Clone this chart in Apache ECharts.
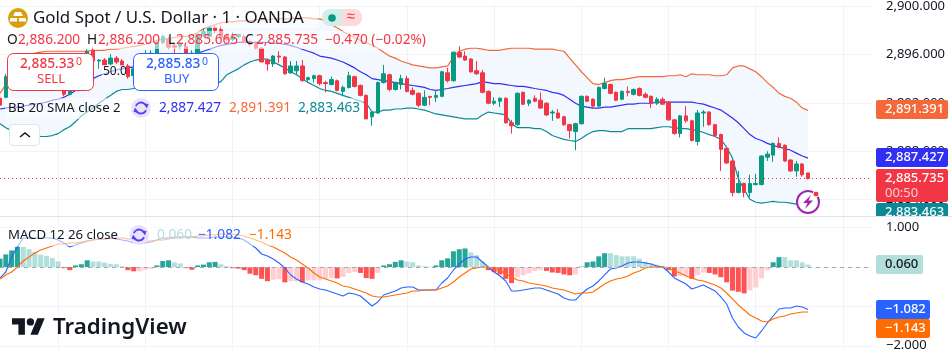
<!DOCTYPE html>
<html>
<head>
<meta charset="utf-8">
<style>
  html, body { margin: 0; padding: 0; background: #fff; }
  #chart { width: 952px; height: 358px; }
</style>
<script src="https://cdn.jsdelivr.net/npm/echarts@6/dist/echarts.min.js"></script>
</head>
<body>
<div id="chart"></div>
<script>
// XAU/USD 1 minute candles
const opens = [
  2892.39,2892.47,2894.18,2894.99,2895.56,2895.16,2894.50,2894.99,2894.42,2893.94,
  2893.37,2893.85,2892.72,2893.69,2894.75,2895.72,2896.37,2895.48,2895.56,2895.24,
  2895.72,2895.48,2895.07,2894.26,2894.83,2894.83,2895.81,2895.89,2897.02,2897.27,
  2896.78,2896.70,2896.70,2895.97,2895.97,2897.59,2897.51,2898.24,2898.08,2897.59,
  2897.27,2897.51,2897.51,2897.11,2896.94,2896.54,2895.56,2895.24,2895.89,2895.81,
  2894.50,2894.67,2895.07,2893.94,2894.02,2894.26,2893.69,2893.53,2893.85,2892.96,
  2893.29,2894.18,2893.45,2892.63,2890.85,2891.17,2893.69,2894.34,2893.12,2893.53,
  2894.02,2893.04,2892.80,2891.82,2892.55,2892.47,2892.55,2894.50,2893.85,2896.21,
  2895.89,2895.64,2894.67,2894.50,2892.96,2891.98,2892.15,2892.39,2890.36,2890.20,
  2892.88,2891.98,2892.39,2892.23,2891.98,2891.17,2891.17,2890.85,2890.20,2889.63,
  2890.28,2892.55,2892.31,2891.74,2893.20,2893.53,2892.88,2892.31,2892.96,2892.72,
  2893.20,2892.72,2892.55,2891.98,2892.31,2892.07,2890.60,2889.46,2890.93,2890.52,
  2888.81,2891.17,2891.25,2890.20,2889.38,2888.24,2887.19,2884.58,2885.32,2884.58,
  2885.24,2885.24,2887.51,2887.68,2888.65,2888.49,2887.27,2886.37,2886.94,2886.20
];
const closes = [
  2891.82,2894.18,2895.07,2895.64,2895.07,2894.50,2894.99,2894.34,2893.85,2893.45,
  2893.77,2892.72,2893.69,2894.83,2895.72,2896.29,2895.48,2895.56,2895.16,2895.72,
  2895.40,2895.07,2894.18,2894.83,2894.34,2895.89,2896.13,2897.02,2897.51,2896.62,
  2896.62,2896.94,2895.97,2896.13,2897.67,2897.92,2898.24,2898.00,2897.43,2897.27,
  2897.51,2897.67,2897.02,2896.86,2896.54,2895.40,2895.24,2895.89,2895.81,2894.42,
  2895.07,2895.07,2893.85,2894.10,2894.26,2893.61,2893.61,2893.94,2893.04,2893.29,
  2894.26,2893.37,2892.63,2890.68,2891.25,2893.69,2894.42,2893.12,2893.69,2894.02,
  2892.96,2892.72,2891.82,2892.47,2892.47,2892.63,2894.59,2893.85,2896.21,2895.81,
  2895.56,2894.59,2894.42,2892.88,2891.98,2892.15,2892.39,2890.36,2890.11,2892.80,
  2891.90,2892.23,2892.15,2891.58,2891.01,2891.25,2890.76,2890.20,2889.71,2890.28,
  2892.55,2892.15,2891.74,2893.29,2893.61,2892.80,2892.23,2892.96,2892.88,2893.12,
  2892.63,2892.47,2891.98,2892.31,2891.90,2890.60,2889.46,2890.93,2890.52,2888.89,
  2891.17,2891.25,2890.20,2889.30,2888.16,2887.03,2884.58,2885.32,2884.58,2885.32,
  2885.32,2887.60,2887.76,2888.65,2888.33,2887.19,2886.37,2886.94,2886.05,2885.735
];
const lows = [
  2891.66,2892.39,2894.02,2894.83,2894.83,2894.34,2894.34,2894.10,2893.69,2893.29,
  2893.29,2892.55,2892.63,2893.53,2894.67,2895.56,2894.91,2894.83,2894.91,2895.07,
  2895.24,2894.91,2894.02,2894.10,2893.85,2894.67,2895.32,2895.72,2896.86,2896.46,
  2896.13,2896.46,2895.89,2895.89,2895.89,2897.43,2897.43,2897.76,2897.35,2897.11,
  2897.11,2897.35,2896.94,2896.70,2896.46,2895.40,2894.67,2894.99,2895.32,2894.34,
  2894.42,2894.34,2893.77,2893.69,2893.69,2893.45,2892.88,2893.45,2892.96,2892.55,
  2893.20,2893.29,2892.55,2890.68,2890.11,2891.09,2893.61,2892.96,2893.04,2893.12,
  2892.88,2892.63,2891.66,2891.74,2891.82,2892.07,2892.47,2893.69,2893.77,2895.72,
  2895.48,2894.50,2894.34,2892.80,2891.90,2891.82,2891.66,2890.28,2889.46,2890.11,
  2891.82,2891.74,2892.07,2891.50,2890.93,2890.52,2890.68,2890.11,2889.06,2888.08,
  2890.20,2892.07,2891.50,2891.66,2893.12,2892.72,2892.15,2892.23,2892.55,2892.63,
  2892.55,2892.39,2891.58,2891.82,2891.82,2890.52,2889.38,2889.14,2890.36,2888.81,
  2888.49,2890.03,2890.11,2889.22,2886.37,2886.94,2884.26,2884.50,2884.18,2884.18,
  2885.16,2885.16,2887.19,2887.11,2888.24,2887.11,2886.29,2885.89,2885.89,2885.665
];
const highs = [
  2892.55,2894.42,2895.32,2895.97,2895.72,2895.32,2895.16,2895.16,2894.59,2894.10,
  2894.02,2894.02,2894.02,2895.16,2895.97,2896.46,2896.62,2895.64,2895.72,2896.05,
  2895.89,2895.64,2895.24,2894.99,2895.16,2896.37,2896.37,2897.11,2897.67,2897.51,
  2896.94,2897.11,2896.86,2896.37,2897.76,2898.16,2898.41,2898.41,2898.41,2897.76,
  2897.84,2897.76,2897.67,2897.27,2897.02,2896.62,2895.64,2895.97,2896.29,2895.89,
  2895.48,2895.48,2895.56,2894.18,2894.34,2894.34,2893.85,2894.18,2893.94,2893.45,
  2894.59,2894.26,2893.53,2892.72,2891.33,2893.77,2895.16,2894.42,2893.77,2894.34,
  2894.26,2893.29,2892.88,2893.04,2892.55,2893.04,2894.67,2894.91,2896.29,2896.70,
  2896.29,2895.72,2895.48,2894.75,2893.04,2892.47,2892.47,2892.47,2890.60,2892.88,
  2892.96,2892.31,2892.63,2892.88,2892.07,2891.41,2891.50,2890.93,2890.28,2890.36,
  2892.63,2892.63,2892.39,2893.37,2894.10,2893.61,2892.96,2893.04,2893.37,2893.20,
  2893.29,2892.88,2892.63,2892.47,2892.47,2892.15,2890.68,2891.01,2891.74,2890.60,
  2891.41,2891.41,2891.33,2890.28,2889.46,2888.33,2887.27,2886.37,2885.40,2886.05,
  2886.13,2887.68,2888.00,2888.73,2889.14,2888.57,2887.35,2887.19,2887.03,2886.20
];

// Bollinger bands
const bbUpper = [
  2892.80,2893.53,2894.34,2895.07,2895.64,2895.97,2896.13,2896.21,2896.29,2896.29,
  2896.29,2896.29,2896.29,2896.29,2896.29,2896.29,2896.37,2896.37,2896.37,2896.46,
  2896.46,2896.54,2896.62,2896.70,2896.78,2896.86,2897.02,2897.19,2897.27,2897.35,
  2897.43,2897.51,2897.51,2897.59,2897.84,2898.16,2898.33,2898.49,2898.65,2898.73,
  2898.73,2898.81,2898.81,2898.81,2898.89,2898.89,2898.89,2898.97,2898.97,2898.97,
  2898.97,2899.06,2899.06,2899.06,2898.97,2898.97,2898.81,2898.49,2898.24,2897.92,
  2897.67,2897.43,2897.19,2897.02,2896.78,2896.54,2896.21,2895.89,2895.72,2895.48,
  2895.32,2895.16,2895.07,2894.99,2894.91,2894.91,2894.99,2895.07,2895.81,2896.29,
  2896.46,2896.54,2896.54,2896.46,2896.37,2896.37,2896.37,2896.46,2896.54,2896.54,
  2896.54,2896.54,2896.46,2896.46,2896.46,2896.46,2896.37,2896.29,2895.72,2895.16,
  2894.59,2894.10,2893.61,2893.53,2893.69,2893.85,2893.94,2893.94,2894.02,2894.10,
  2894.18,2894.18,2894.18,2894.18,2894.18,2894.26,2894.26,2894.34,2894.18,2894.42,
  2894.34,2894.34,2894.34,2894.26,2894.26,2894.34,2894.91,2895.07,2895.07,2894.83,
  2894.59,2894.18,2893.69,2893.29,2892.80,2892.55,2892.39,2892.07,2891.58,2891.391
];
const bbBasis = [
  2891.50,2891.58,2891.66,2891.66,2891.74,2891.82,2891.90,2891.98,2892.07,2892.23,
  2892.31,2892.47,2892.72,2893.04,2893.37,2893.77,2894.02,2894.26,2894.42,2894.59,
  2894.75,2894.83,2894.91,2894.99,2895.07,2895.16,2895.24,2895.32,2895.48,2895.56,
  2895.64,2895.72,2895.81,2895.97,2896.13,2896.29,2896.46,2896.62,2896.78,2896.86,
  2896.94,2897.02,2897.02,2897.02,2897.02,2897.02,2897.02,2896.94,2896.94,2896.86,
  2896.78,2896.62,2896.46,2896.29,2896.13,2895.89,2895.81,2895.72,2895.56,2895.40,
  2895.16,2894.91,2894.59,2894.34,2894.02,2893.94,2893.85,2893.77,2893.69,2893.61,
  2893.53,2893.45,2893.37,2893.29,2893.12,2893.04,2893.12,2893.20,2893.29,2893.37,
  2893.45,2893.53,2893.61,2893.77,2893.69,2893.61,2893.61,2893.53,2893.45,2893.37,
  2893.37,2893.29,2893.20,2893.12,2893.04,2892.88,2892.80,2892.63,2892.31,2891.98,
  2891.74,2891.66,2891.58,2891.58,2891.66,2891.66,2891.74,2891.82,2891.90,2891.90,
  2891.98,2891.98,2891.98,2892.07,2892.07,2892.07,2892.07,2892.07,2892.07,2892.07,
  2891.98,2891.90,2891.74,2891.58,2891.41,2891.09,2890.76,2890.36,2889.87,2889.38,
  2889.06,2888.89,2888.65,2888.49,2888.33,2888.24,2888.08,2887.84,2887.60,2887.427
];
const bbLower = [
  2890.28,2889.95,2889.71,2889.46,2889.38,2889.30,2889.30,2889.22,2889.22,2889.30,
  2889.46,2889.79,2890.03,2890.44,2890.93,2891.25,2891.58,2891.98,2892.31,2892.63,
  2892.96,2893.12,2893.12,2893.20,2893.20,2893.20,2893.29,2893.29,2893.29,2893.29,
  2893.29,2893.37,2893.37,2893.37,2893.45,2893.45,2893.53,2893.61,2893.77,2894.34,
  2894.59,2894.83,2895.16,2895.40,2895.56,2895.64,2895.64,2895.40,2895.16,2894.91,
  2894.59,2894.34,2894.02,2893.69,2893.45,2893.20,2893.04,2892.96,2892.80,2892.63,
  2892.47,2892.31,2892.15,2891.98,2891.25,2891.25,2891.41,2891.41,2891.50,2891.50,
  2891.58,2891.58,2891.50,2891.41,2891.25,2891.09,2891.01,2890.93,2890.85,2890.76,
  2890.68,2890.68,2890.68,2891.01,2891.25,2891.17,2891.09,2891.01,2890.28,2889.95,
  2889.95,2889.95,2889.87,2889.87,2889.63,2889.30,2889.14,2888.98,2888.89,2888.81,
  2889.06,2889.38,2889.63,2889.71,2889.71,2889.63,2889.63,2889.63,2889.87,2889.87,
  2889.87,2889.87,2889.87,2889.95,2890.03,2890.03,2889.95,2889.87,2889.87,2889.79,
  2889.71,2889.55,2889.38,2889.22,2888.98,2888.33,2887.43,2885.72,2884.83,2884.02,
  2883.77,2883.69,2883.77,2883.85,2883.77,2883.77,2883.69,2883.61,2883.53,2883.463
];

// MACD pane
const macdHist = [
  0.21,0.32,0.42,0.51,0.51,0.45,0.38,0.31,0.28,0.23,
  0.14,-0.03,-0.08,0.04,0.07,0.17,0.14,0.14,0.11,0.08,
  0.07,0.02,-0.08,-0.11,-0.11,-0.07,-0.05,0.04,0.15,0.17,
  0.12,0.09,-0.03,-0.07,0.04,0.06,0.12,0.13,0.07,0.02,
  -0.03,-0.04,-0.08,-0.17,-0.21,-0.30,-0.36,-0.32,-0.31,-0.39,
  -0.36,-0.36,-0.39,-0.34,-0.34,-0.34,-0.30,-0.28,-0.29,-0.25,
  -0.15,-0.13,-0.15,-0.28,-0.30,-0.15,0.04,0.07,0.13,0.17,
  0.14,0.12,0.04,0.02,0.01,0.04,0.17,0.22,0.40,0.45,
  0.47,0.37,0.30,0.14,-0.08,-0.13,-0.19,-0.30,-0.41,-0.26,
  -0.21,-0.16,-0.10,-0.08,-0.10,-0.14,-0.15,-0.19,-0.21,-0.19,
  0.01,0.12,0.14,0.27,0.35,0.35,0.30,0.27,0.27,0.27,
  0.21,0.14,0.09,0.06,0.03,-0.08,-0.24,-0.23,-0.23,-0.30,
  -0.21,-0.14,-0.15,-0.19,-0.26,-0.39,-0.60,-0.63,-0.67,-0.59,
  -0.52,-0.29,-0.08,0.12,0.25,0.25,0.17,0.17,0.12,0.06
];
const macdLine = [
  -0.279,-0.127,0.254,0.508,0.736,0.736,0.736,0.736,0.736,0.736,
  0.685,0.609,0.508,0.558,0.609,0.660,0.685,0.711,0.711,0.736,
  0.711,0.685,0.660,0.609,0.584,0.609,0.635,0.685,0.736,0.736,
  0.761,0.761,0.761,0.761,0.736,0.736,0.736,0.761,0.761,0.761,
  0.761,0.736,0.685,0.584,0.482,0.330,0.279,0.203,0.102,-0.025,
  -0.203,-0.305,-0.381,-0.431,-0.508,-0.558,-0.584,-0.634,-0.685,-0.736,
  -0.660,-0.685,-0.736,-0.863,-0.990,-0.888,-0.711,-0.660,-0.609,-0.533,
  -0.508,-0.508,-0.584,-0.584,-0.584,-0.584,-0.406,-0.279,-0.076,0.076,
  0.203,0.254,0.254,0.127,0,-0.127,-0.228,-0.355,-0.609,-0.609,
  -0.584,-0.558,-0.533,-0.533,-0.584,-0.634,-0.685,-0.787,-0.838,-0.838,
  -0.685,-0.558,-0.482,-0.355,-0.203,-0.051,-0.025,0.025,0.102,0.127,
  0.127,0.102,0.076,0.025,0,-0.127,-0.279,-0.355,-0.431,-0.558,
  -0.508,-0.457,-0.533,-0.609,-0.761,-0.939,-1.294,-1.523,-1.675,-1.751,
  -1.802,-1.624,-1.421,-1.244,-1.066,-1.041,-1.041,-0.990,-1.015,-1.082
];
const macdSignal = [
  -0.305,-0.203,-0.127,0,0.152,0.254,0.355,0.431,0.482,0.533,
  0.584,0.584,0.609,0.609,0.635,0.660,0.685,0.711,0.711,0.736,
  0.736,0.736,0.711,0.685,0.660,0.660,0.660,0.685,0.685,0.711,
  0.736,0.736,0.761,0.761,0.787,0.787,0.812,0.812,0.838,0.838,
  0.838,0.812,0.787,0.736,0.685,0.635,0.558,0.508,0.431,0.355,
  0.254,0.178,0.076,-0.025,-0.152,-0.254,-0.305,-0.355,-0.406,-0.482,
  -0.508,-0.558,-0.609,-0.660,-0.736,-0.761,-0.761,-0.736,-0.711,-0.685,
  -0.660,-0.609,-0.609,-0.584,-0.584,-0.584,-0.533,-0.482,-0.381,-0.254,
  -0.152,-0.051,-0.025,0,0,-0.025,-0.076,-0.178,-0.254,-0.330,
  -0.355,-0.406,-0.431,-0.457,-0.482,-0.533,-0.558,-0.584,-0.634,-0.685,
  -0.660,-0.660,-0.634,-0.533,-0.431,-0.355,-0.305,-0.279,-0.228,-0.152,
  -0.102,-0.025,0,0,0,-0.025,-0.102,-0.152,-0.228,-0.279,
  -0.330,-0.355,-0.406,-0.457,-0.533,-0.660,-0.812,-0.964,-1.091,-1.218,
  -1.294,-1.371,-1.396,-1.320,-1.269,-1.244,-1.193,-1.168,-1.142,-1.143
];

const priceTicks = [2884, 2888, 2892, 2896, 2900];
const macdGridTicks = [-2, -1, 0, 1];
const macdLabelTicks = [-2, 1];

const FONT = '"Noto Sans", sans-serif';
const GREEN = '#089981';
const RED = '#f23645';
const TEXT = '#131722';
const GRID = '#f0f3fa';
const UPPER = '#f5683a';
const BASIS = '#3030f0';
const LOWER = '#0b8a96';
const MACD_BLUE = '#2962ff';
const MACD_ORANGE = '#ff6d00';

// 151 one-minute slots, the chart leaves empty room right of the last bar
const categories = Array.from({ length: 151 }, (_, i) => `${i}`);

const fmtPrice = (v) => v.toLocaleString('en-US', { minimumFractionDigits: 3, maximumFractionDigits: 3 });
const fmtMacd = (v) => v.toFixed(3).replace('-', '\u2212');

const candleData = opens.map((o, i) => [o, closes[i], lows[i], highs[i]]);

const histData = macdHist.map((v, i) => {
  const prev = i > 0 ? macdHist[i - 1] : 0;
  let color;
  if (v >= 0) color = v > prev ? '#26a69a' : '#b2dfdb';
  else color = v < prev ? '#ff5252' : '#ffcdd2';
  return { value: v, itemStyle: { color } };
});

// graphic helpers
const txt = (x, y, text, fill, size, extra) => ({
  type: 'text',
  x,
  y,
  silent: true,
  style: {
    text,
    fill,
    fontFamily: FONT,
    fontSize: size,
    textAlign: 'left',
    textVerticalAlign: 'middle',
    ...extra,
  },
});
const box = (x, y, width, height, fill, r, extra) => ({
  type: 'rect',
  silent: true,
  shape: { x, y, width, height, r: r || 0 },
  style: { fill, ...extra },
});

const refreshIcon = (cx, cy) => [
  { type: 'circle', silent: true, shape: { cx, cy, r: 10 }, style: { fill: '#e9e3fb' } },
  { type: 'arc', silent: true, shape: { cx, cy, r: 5.5, startAngle: 3.5, endAngle: 5.9 }, style: { stroke: '#5b3df5', lineWidth: 1.8, fill: 'none' } },
  { type: 'arc', silent: true, shape: { cx, cy, r: 5.5, startAngle: 0.4, endAngle: 2.8 }, style: { stroke: '#5b3df5', lineWidth: 1.8, fill: 'none' } },
  { type: 'polygon', silent: true, shape: { points: [[cx + 7.5, cy - 4], [cx + 2.5, cy - 4.5], [cx + 6, cy + 0.5]] }, style: { fill: '#5b3df5' } },
  { type: 'polygon', silent: true, shape: { points: [[cx - 7.5, cy + 4], [cx - 2.5, cy + 4.5], [cx - 6, cy - 0.5]] }, style: { fill: '#5b3df5' } },
];

const priceTag = (y, h, fill, text, color, w) => [
  box(876, y, w || 72, h, fill, 2),
  txt(885, y + 9.5, text, color || '#fff', 13, { fontWeight: 500 }),
];

const overlay = [
  // faded backing behind the legend rows
  box(5, 8, 313, 20, 'rgba(255,255,255,0.55)'),
  box(5, 31, 423, 18, 'rgba(255,255,255,0.55)'),
  box(5, 98, 358, 21, 'rgba(255,255,255,0.55)'),
  box(5, 224, 288, 22, 'rgba(255,255,255,0.55)'),

  // gold logo
  { type: 'circle', silent: true, shape: { cx: 18, cy: 18, r: 10 }, style: { fill: '#d99e0e' } },
  { type: 'polygon', silent: true, shape: { points: [[15, 12], [21, 12], [23, 16], [13, 16]] }, style: { fill: '#fff' } },
  { type: 'polygon', silent: true, shape: { points: [[10.5, 18], [17, 18], [17, 21.5], [9.5, 21.5]] }, style: { fill: '#fff' } },
  { type: 'polygon', silent: true, shape: { points: [[19, 18], [25.5, 18], [26.5, 21.5], [19, 21.5]] }, style: { fill: '#fff' } },

  txt(33, 18, 'Gold Spot / U.S. Dollar \u00b7 1 \u00b7 OANDA', TEXT, 16.9),

  // market status pills
  box(322, 9, 20, 17, '#d3eee8', [8, 0, 0, 8]),
  box(342, 9, 20, 17, '#fbd9dd', [0, 8, 8, 0]),
  { type: 'circle', silent: true, shape: { cx: 332, cy: 18, r: 3.8 }, style: { fill: GREEN } },
  txt(346.5, 17, '\u2248', RED, 15),

  // OHLC row
  txt(7, 40, 'O', TEXT, 13.7),
  txt(18, 40, '2,886.200', RED, 13.7),
  txt(87, 40, 'H', TEXT, 13.7),
  txt(98, 40, '2,886.200', RED, 13.7),
  txt(168, 40, 'L', TEXT, 13.7),
  txt(176, 40, '2,885.665', RED, 13.7),
  txt(245, 40, 'C', TEXT, 13.7),
  txt(256, 40, '2,885.735', RED, 13.7),
  txt(325, 40, '\u22120.470 (\u22120.02%)', RED, 13.7),

  // buy / sell buttons
  box(7.5, 53.5, 86, 37, '#fff', 6, { stroke: RED, lineWidth: 1 }),
  txt(20, 64, '2,885.33', RED, 13.7, { fontWeight: 500 }),
  txt(76, 62, '0', RED, 10.5),
  txt(37, 79.5, 'SELL', RED, 13),
  box(133.5, 53.5, 85, 37, '#fff', 6, { stroke: MACD_BLUE, lineWidth: 1 }),
  txt(146, 64, '2,885.83', MACD_BLUE, 13.7, { fontWeight: 500 }),
  txt(202, 62, '0', MACD_BLUE, 10.5),
  txt(164, 79.5, 'BUY', MACD_BLUE, 13),
  box(102, 65, 24, 14, 'rgba(255,255,255,0.6)'),
  txt(103, 72, '50.0', TEXT, 12),

  // Bollinger legend
  txt(8, 108, 'BB 20 SMA close 2', TEXT, 13.2),
  ...refreshIcon(141, 108),
  txt(159, 108, '2,887.427', BASIS, 13.7),
  txt(229, 108, '2,891.391', UPPER, 13.7),
  txt(298, 108, '2,883.463', LOWER, 13.7),

  // collapse button
  box(9.5, 124.5, 30, 21, '#fff', 4, { stroke: '#e0e3eb', lineWidth: 1 }),
  { type: 'polyline', silent: true, shape: { points: [[20, 137], [25, 133], [30, 137]] }, style: { stroke: TEXT, lineWidth: 1.5, fill: 'none' } },

  // MACD legend
  txt(8, 235, 'MACD 12 26 close', TEXT, 13.2),
  ...refreshIcon(139, 235),
  txt(157, 235, '0.060', '#b2dfdb', 13.7),
  txt(198, 235, '\u22121.082', MACD_BLUE, 13.7),
  txt(249, 235, '\u22121.143', MACD_ORANGE, 13.7),

  // TradingView logo
  { type: 'polygon', silent: true, shape: { points: [[24.9, 334.7], [18.4, 334.7], [18.4, 324.6], [12, 324.6], [12, 318.2], [24.9, 318.2]] }, style: { fill: TEXT } },
  { type: 'polygon', silent: true, shape: { points: [[37.8, 334.7], [30.4, 334.7], [37.3, 318.2], [44.7, 318.2]] }, style: { fill: TEXT } },
  { type: 'circle', silent: true, shape: { cx: 30.4, cy: 321.9, r: 3.7 }, style: { fill: TEXT } },
  txt(53, 328, 'TradingView', TEXT, 22.3, { fontWeight: 600 }),

  // flash icon at the last bar
  { type: 'circle', silent: true, shape: { cx: 808, cy: 202, r: 11 }, style: { fill: '#fff', stroke: '#9c27b0', lineWidth: 2 } },
  { type: 'polygon', silent: true, shape: { points: [[811, 195], [803, 203], [807.5, 203], [805, 209], [813, 200.5], [808.5, 200.5]] }, style: { fill: '#9c27b0' } },
  { type: 'circle', silent: true, shape: { cx: 816, cy: 194, r: 3 }, style: { fill: RED, stroke: '#fff', lineWidth: 1 } },

  // separator between panes
  box(0, 216, 952, 1, '#e0e3eb'),

  // price scale tags
  ...priceTag(100, 19, '#f5683a', '2,891.391'),
  ...priceTag(148, 19, '#3030f5', '2,887.427'),
  box(876, 169, 72, 33, RED, 2),
  txt(885, 178, '2,885.735', '#fff', 13, { fontWeight: 500 }),
  txt(885, 193, '00:50', '#fbd0d5', 13),
  box(876, 203, 72, 13, LOWER, [2, 2, 0, 0]),
  txt(885, 212, '2,883.463', '#fff', 13, { fontWeight: 500 }),
  ...priceTag(255, 19, '#b2dfdb', '0.060', TEXT, 47),
  ...priceTag(300, 19, MACD_BLUE, '\u22121.082', '#fff', 54),
  ...priceTag(319, 19, MACD_ORANGE, '\u22121.143', '#fff', 54),
];

const chart = echarts.init(document.getElementById('chart'), null, { renderer: 'canvas' });

const xAxisBase = {
  type: 'category',
  data: categories,
  boundaryGap: false,
  axisLine: { show: false },
  axisTick: { show: false },
  axisLabel: { show: false },
  splitLine: {
    show: true,
    interval: (index) => (index - 10) % 15 === 0,
    lineStyle: { color: GRID, width: 1 },
  },
};

const bandLine = (name, data, color) => ({
  name,
  type: 'line',
  data,
  symbol: 'none',
  silent: true,
  z: 2,
  lineStyle: { color, width: 1.2 },
});

chart.setOption({
  animation: false,
  backgroundColor: '#fff',
  grid: [
    { left: -1.2, right: 80, top: 0, height: 216 },
    { left: -1.2, right: 80, top: 217, height: 133 },
  ],
  xAxis: [
    { ...xAxisBase, gridIndex: 0 },
    { ...xAxisBase, gridIndex: 1 },
  ],
  yAxis: [
    {
      gridIndex: 0,
      type: 'value',
      position: 'right',
      min: 2882.63,
      max: 2900.195,
      axisLine: { show: false },
      axisTick: { show: false, customValues: priceTicks },
      splitLine: { lineStyle: { color: GRID, width: 1 } },
      axisLabel: {
        customValues: priceTicks,
        margin: 14,
        color: TEXT,
        fontFamily: FONT,
        fontSize: 13,
        padding: [0, 0, 10, 0],
        formatter: (v) => fmtPrice(v),
      },
    },
    {
      gridIndex: 1,
      type: 'value',
      position: 'right',
      min: -2.107,
      max: 1.269,
      axisLine: { show: false },
      axisTick: { show: false, customValues: macdGridTicks },
      splitLine: { lineStyle: { color: GRID, width: 1 } },
      axisLabel: {
        customValues: macdLabelTicks,
        margin: 14,
        color: TEXT,
        fontFamily: FONT,
        fontSize: 13,
        formatter: (v) => fmtMacd(v),
      },
    },
  ],
  series: [
    // band fill: invisible base plus stacked width
    {
      name: 'bbBase',
      type: 'line',
      stack: 'bb',
      data: bbLower,
      symbol: 'none',
      silent: true,
      lineStyle: { opacity: 0 },
      z: 1,
    },
    {
      name: 'bbFill',
      type: 'line',
      stack: 'bb',
      data: bbUpper.map((v, i) => +(v - bbLower[i]).toFixed(3)),
      symbol: 'none',
      silent: true,
      lineStyle: { opacity: 0 },
      areaStyle: { color: '#f2f8fe', opacity: 1 },
      z: 1,
    },
    bandLine('BB upper', bbUpper, UPPER),
    bandLine('BB basis', bbBasis, BASIS),
    bandLine('BB lower', bbLower, LOWER),
    {
      name: 'XAUUSD',
      type: 'candlestick',
      data: candleData,
      barWidth: 4,
      silent: true,
      z: 3,
      itemStyle: {
        color: GREEN,
        color0: RED,
        borderColor: GREEN,
        borderColor0: RED,
        borderWidth: 1,
      },
      markLine: {
        silent: true,
        symbol: 'none',
        label: { show: false },
        lineStyle: { color: RED, type: [1, 3], width: 1 },
        data: [{ yAxis: closes[closes.length - 1] }],
      },
    },
    {
      name: 'Histogram',
      type: 'bar',
      xAxisIndex: 1,
      yAxisIndex: 1,
      data: histData,
      barWidth: 5,
      silent: true,
      z: 2,
      markLine: {
        silent: true,
        symbol: 'none',
        label: { show: false },
        lineStyle: { color: '#a5a8ad', type: [4, 4], width: 1 },
        data: [{ yAxis: 0 }],
      },
    },
    {
      name: 'MACD',
      type: 'line',
      xAxisIndex: 1,
      yAxisIndex: 1,
      data: macdLine,
      symbol: 'none',
      silent: true,
      z: 3,
      lineStyle: { color: MACD_BLUE, width: 1.1 },
    },
    {
      name: 'Signal',
      type: 'line',
      xAxisIndex: 1,
      yAxisIndex: 1,
      data: macdSignal,
      symbol: 'none',
      silent: true,
      z: 3,
      lineStyle: { color: MACD_ORANGE, width: 1.1 },
    },
  ],
  graphic: { elements: overlay.map((el) => ({ ...el, z: 100 })) },
});
</script>
</body>
</html>
